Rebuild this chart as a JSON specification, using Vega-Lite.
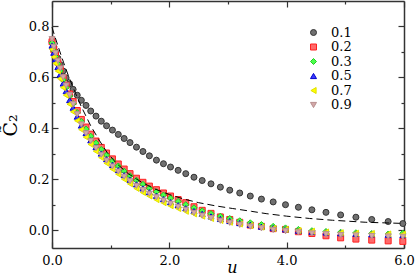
{
  "$schema": "https://vega.github.io/schema/vega-lite/v6.json",
  "autosize": {"type": "none"},
  "padding": {"left": 52, "top": 1, "right": 11, "bottom": 27},
  "width": 352,
  "height": 247,
  "config": {"view": {"stroke": null}},
  "datasets": {
    "fit": [
      {"u": 0, "d": 0.797}, {"u": 0.05, "d": 0.76}, {"u": 0.1, "d": 0.725}, {"u": 0.15, "d": 0.69},
      {"u": 0.2, "d": 0.657}, {"u": 0.29, "d": 0.6}, {"u": 0.4, "d": 0.538}, {"u": 0.5, "d": 0.485},
      {"u": 0.66, "d": 0.41}, {"u": 0.8, "d": 0.355}, {"u": 0.94, "d": 0.305}, {"u": 1.1, "d": 0.262},
      {"u": 1.3, "d": 0.222}, {"u": 1.5, "d": 0.192}, {"u": 1.74, "d": 0.163}, {"u": 2.0, "d": 0.14},
      {"u": 2.25, "d": 0.122}, {"u": 2.5, "d": 0.108}, {"u": 2.8, "d": 0.095}, {"u": 3.08, "d": 0.085},
      {"u": 3.4, "d": 0.074}, {"u": 3.65, "d": 0.065}, {"u": 4.0, "d": 0.055}, {"u": 4.39, "d": 0.046},
      {"u": 4.78, "d": 0.039}, {"u": 5.35, "d": 0.031}, {"u": 5.92, "d": 0.027}, {"u": 6.0, "d": 0.026}
    ],
    "pts": [
      {"u":0,"s":"0.1","c":0.74},{"u":0.03,"s":"0.1","c":0.72},{"u":0.06,"s":"0.1","c":0.70},{"u":0.1,"s":"0.1","c":0.675},{"u":0.14,"s":"0.1","c":0.65},{"u":0.19,"s":"0.1","c":0.625},{"u":0.24,"s":"0.1","c":0.598},{"u":0.3,"s":"0.1","c":0.575},{"u":0.36,"s":"0.1","c":0.553},{"u":0.43,"s":"0.1","c":0.53},{"u":0.5,"s":"0.1","c":0.51},{"u":0.58,"s":"0.1","c":0.49},{"u":0.66,"s":"0.1","c":0.468},{"u":0.75,"s":"0.1","c":0.448},{"u":0.84,"s":"0.1","c":0.428},{"u":0.93,"s":"0.1","c":0.41},{"u":1.03,"s":"0.1","c":0.393},{"u":1.13,"s":"0.1","c":0.376},{"u":1.23,"s":"0.1","c":0.36},{"u":1.33,"s":"0.1","c":0.344},{"u":1.44,"s":"0.1","c":0.326},{"u":1.55,"s":"0.1","c":0.309},{"u":1.66,"s":"0.1","c":0.292},{"u":1.78,"s":"0.1","c":0.275},{"u":1.9,"s":"0.1","c":0.261},{"u":2.02,"s":"0.1","c":0.248},{"u":2.15,"s":"0.1","c":0.235},{"u":2.28,"s":"0.1","c":0.222},{"u":2.42,"s":"0.1","c":0.208},{"u":2.56,"s":"0.1","c":0.195},{"u":2.71,"s":"0.1","c":0.182},{"u":2.87,"s":"0.1","c":0.169},{"u":3.03,"s":"0.1","c":0.157},{"u":3.2,"s":"0.1","c":0.146},{"u":3.38,"s":"0.1","c":0.134},{"u":3.57,"s":"0.1","c":0.122},{"u":3.77,"s":"0.1","c":0.111},{"u":3.98,"s":"0.1","c":0.1},{"u":4.2,"s":"0.1","c":0.09},{"u":4.43,"s":"0.1","c":0.08},{"u":4.67,"s":"0.1","c":0.07},{"u":4.92,"s":"0.1","c":0.06},{"u":5.18,"s":"0.1","c":0.051},{"u":5.45,"s":"0.1","c":0.042},{"u":5.73,"s":"0.1","c":0.034},{"u":5.98,"s":"0.1","c":0.026},
      {"u":0,"s":"0.2","c":0.74},{"u":0.03,"s":"0.2","c":0.71},{"u":0.06,"s":"0.2","c":0.688},{"u":0.1,"s":"0.2","c":0.66},{"u":0.14,"s":"0.2","c":0.632},{"u":0.19,"s":"0.2","c":0.598},{"u":0.24,"s":"0.2","c":0.569},{"u":0.3,"s":"0.2","c":0.535},{"u":0.36,"s":"0.2","c":0.505},{"u":0.43,"s":"0.2","c":0.47},{"u":0.5,"s":"0.2","c":0.435},{"u":0.58,"s":"0.2","c":0.405},{"u":0.66,"s":"0.2","c":0.377},{"u":0.75,"s":"0.2","c":0.35},{"u":0.84,"s":"0.2","c":0.325},{"u":0.93,"s":"0.2","c":0.303},{"u":1.03,"s":"0.2","c":0.28},{"u":1.13,"s":"0.2","c":0.26},{"u":1.23,"s":"0.2","c":0.24},{"u":1.33,"s":"0.2","c":0.222},{"u":1.44,"s":"0.2","c":0.204},{"u":1.55,"s":"0.2","c":0.188},{"u":1.66,"s":"0.2","c":0.173},{"u":1.78,"s":"0.2","c":0.159},{"u":1.9,"s":"0.2","c":0.146},{"u":2.02,"s":"0.2","c":0.134},{"u":2.15,"s":"0.2","c":0.12},{"u":2.28,"s":"0.2","c":0.108},{"u":2.42,"s":"0.2","c":0.092},{"u":2.56,"s":"0.2","c":0.078},{"u":2.71,"s":"0.2","c":0.066},{"u":2.87,"s":"0.2","c":0.052},{"u":3.03,"s":"0.2","c":0.042},{"u":3.2,"s":"0.2","c":0.031},{"u":3.38,"s":"0.2","c":0.02},{"u":3.57,"s":"0.2","c":0.015},{"u":3.77,"s":"0.2","c":0.006},{"u":3.98,"s":"0.2","c":0.003},{"u":4.2,"s":"0.2","c":-0.006},{"u":4.43,"s":"0.2","c":-0.013},{"u":4.67,"s":"0.2","c":-0.022},{"u":4.92,"s":"0.2","c":-0.03},{"u":5.18,"s":"0.2","c":-0.035},{"u":5.45,"s":"0.2","c":-0.039},{"u":5.73,"s":"0.2","c":-0.042},{"u":5.98,"s":"0.2","c":-0.044},
      {"u":0,"s":"0.3","c":0.735},{"u":0.03,"s":"0.3","c":0.705},{"u":0.06,"s":"0.3","c":0.682},{"u":0.1,"s":"0.3","c":0.653},{"u":0.14,"s":"0.3","c":0.625},{"u":0.19,"s":"0.3","c":0.59},{"u":0.24,"s":"0.3","c":0.56},{"u":0.3,"s":"0.3","c":0.527},{"u":0.36,"s":"0.3","c":0.497},{"u":0.43,"s":"0.3","c":0.462},{"u":0.5,"s":"0.3","c":0.427},{"u":0.58,"s":"0.3","c":0.397},{"u":0.66,"s":"0.3","c":0.369},{"u":0.75,"s":"0.3","c":0.342},{"u":0.84,"s":"0.3","c":0.317},{"u":0.93,"s":"0.3","c":0.295},{"u":1.03,"s":"0.3","c":0.272},{"u":1.13,"s":"0.3","c":0.252},{"u":1.23,"s":"0.3","c":0.232},{"u":1.33,"s":"0.3","c":0.214},{"u":1.44,"s":"0.3","c":0.196},{"u":1.55,"s":"0.3","c":0.18},{"u":1.66,"s":"0.3","c":0.165},{"u":1.78,"s":"0.3","c":0.151},{"u":1.9,"s":"0.3","c":0.138},{"u":2.02,"s":"0.3","c":0.126},{"u":2.15,"s":"0.3","c":0.113},{"u":2.28,"s":"0.3","c":0.1},{"u":2.42,"s":"0.3","c":0.088},{"u":2.56,"s":"0.3","c":0.076},{"u":2.71,"s":"0.3","c":0.065},{"u":2.87,"s":"0.3","c":0.055},{"u":3.03,"s":"0.3","c":0.046},{"u":3.2,"s":"0.3","c":0.037},{"u":3.38,"s":"0.3","c":0.029},{"u":3.57,"s":"0.3","c":0.022},{"u":3.77,"s":"0.3","c":0.015},{"u":3.98,"s":"0.3","c":0.009},{"u":4.2,"s":"0.3","c":0.003},{"u":4.43,"s":"0.3","c":-0.002},{"u":4.67,"s":"0.3","c":-0.005},{"u":4.92,"s":"0.3","c":-0.008},{"u":5.18,"s":"0.3","c":-0.01},{"u":5.45,"s":"0.3","c":-0.013},{"u":5.73,"s":"0.3","c":-0.015},{"u":5.98,"s":"0.3","c":-0.012},
      {"u":0,"s":"0.5","c":0.725},{"u":0.03,"s":"0.5","c":0.697},{"u":0.06,"s":"0.5","c":0.671},{"u":0.1,"s":"0.5","c":0.641},{"u":0.14,"s":"0.5","c":0.611},{"u":0.19,"s":"0.5","c":0.576},{"u":0.24,"s":"0.5","c":0.546},{"u":0.3,"s":"0.5","c":0.511},{"u":0.36,"s":"0.5","c":0.481},{"u":0.43,"s":"0.5","c":0.446},{"u":0.5,"s":"0.5","c":0.411},{"u":0.58,"s":"0.5","c":0.381},{"u":0.66,"s":"0.5","c":0.353},{"u":0.75,"s":"0.5","c":0.326},{"u":0.84,"s":"0.5","c":0.301},{"u":0.93,"s":"0.5","c":0.279},{"u":1.03,"s":"0.5","c":0.256},{"u":1.13,"s":"0.5","c":0.236},{"u":1.23,"s":"0.5","c":0.216},{"u":1.33,"s":"0.5","c":0.198},{"u":1.44,"s":"0.5","c":0.18},{"u":1.55,"s":"0.5","c":0.164},{"u":1.66,"s":"0.5","c":0.149},{"u":1.78,"s":"0.5","c":0.135},{"u":1.9,"s":"0.5","c":0.122},{"u":2.02,"s":"0.5","c":0.11},{"u":2.15,"s":"0.5","c":0.098},{"u":2.28,"s":"0.5","c":0.086},{"u":2.42,"s":"0.5","c":0.075},{"u":2.56,"s":"0.5","c":0.064},{"u":2.71,"s":"0.5","c":0.054},{"u":2.87,"s":"0.5","c":0.044},{"u":3.03,"s":"0.5","c":0.036},{"u":3.2,"s":"0.5","c":0.028},{"u":3.38,"s":"0.5","c":0.021},{"u":3.57,"s":"0.5","c":0.014},{"u":3.77,"s":"0.5","c":0.008},{"u":3.98,"s":"0.5","c":0.003},{"u":4.2,"s":"0.5","c":-0.002},{"u":4.43,"s":"0.5","c":-0.006},{"u":4.67,"s":"0.5","c":-0.009},{"u":4.92,"s":"0.5","c":-0.012},{"u":5.18,"s":"0.5","c":-0.014},{"u":5.45,"s":"0.5","c":-0.016},{"u":5.73,"s":"0.5","c":-0.018},{"u":5.98,"s":"0.5","c":-0.019},
      {"u":0,"s":"0.7","c":0.71},{"u":0.03,"s":"0.7","c":0.68},{"u":0.06,"s":"0.7","c":0.655},{"u":0.1,"s":"0.7","c":0.625},{"u":0.14,"s":"0.7","c":0.595},{"u":0.19,"s":"0.7","c":0.56},{"u":0.24,"s":"0.7","c":0.53},{"u":0.3,"s":"0.7","c":0.495},{"u":0.36,"s":"0.7","c":0.465},{"u":0.43,"s":"0.7","c":0.43},{"u":0.5,"s":"0.7","c":0.395},{"u":0.58,"s":"0.7","c":0.365},{"u":0.66,"s":"0.7","c":0.337},{"u":0.75,"s":"0.7","c":0.31},{"u":0.84,"s":"0.7","c":0.285},{"u":0.93,"s":"0.7","c":0.263},{"u":1.03,"s":"0.7","c":0.24},{"u":1.13,"s":"0.7","c":0.22},{"u":1.23,"s":"0.7","c":0.2},{"u":1.33,"s":"0.7","c":0.182},{"u":1.44,"s":"0.7","c":0.164},{"u":1.55,"s":"0.7","c":0.148},{"u":1.66,"s":"0.7","c":0.134},{"u":1.78,"s":"0.7","c":0.12},{"u":1.9,"s":"0.7","c":0.108},{"u":2.02,"s":"0.7","c":0.096},{"u":2.15,"s":"0.7","c":0.085},{"u":2.28,"s":"0.7","c":0.074},{"u":2.42,"s":"0.7","c":0.064},{"u":2.56,"s":"0.7","c":0.055},{"u":2.71,"s":"0.7","c":0.046},{"u":2.87,"s":"0.7","c":0.038},{"u":3.03,"s":"0.7","c":0.031},{"u":3.2,"s":"0.7","c":0.024},{"u":3.38,"s":"0.7","c":0.018},{"u":3.57,"s":"0.7","c":0.012},{"u":3.77,"s":"0.7","c":0.007},{"u":3.98,"s":"0.7","c":0.003},{"u":4.2,"s":"0.7","c":-0.001},{"u":4.43,"s":"0.7","c":-0.004},{"u":4.67,"s":"0.7","c":-0.007},{"u":4.92,"s":"0.7","c":-0.01},{"u":5.18,"s":"0.7","c":-0.012},{"u":5.45,"s":"0.7","c":-0.013},{"u":5.73,"s":"0.7","c":-0.015},{"u":5.98,"s":"0.7","c":-0.016},
      {"u":0,"s":"0.9","c":0.75},{"u":0.03,"s":"0.9","c":0.72},{"u":0.06,"s":"0.9","c":0.695},{"u":0.1,"s":"0.9","c":0.665},{"u":0.14,"s":"0.9","c":0.635},{"u":0.19,"s":"0.9","c":0.6},{"u":0.24,"s":"0.9","c":0.568},{"u":0.3,"s":"0.9","c":0.53},{"u":0.36,"s":"0.9","c":0.495},{"u":0.43,"s":"0.9","c":0.455},{"u":0.5,"s":"0.9","c":0.415},{"u":0.58,"s":"0.9","c":0.38},{"u":0.66,"s":"0.9","c":0.35},{"u":0.75,"s":"0.9","c":0.322},{"u":0.84,"s":"0.9","c":0.296},{"u":0.93,"s":"0.9","c":0.273},{"u":1.03,"s":"0.9","c":0.25},{"u":1.13,"s":"0.9","c":0.23},{"u":1.23,"s":"0.9","c":0.21},{"u":1.33,"s":"0.9","c":0.192},{"u":1.44,"s":"0.9","c":0.174},{"u":1.55,"s":"0.9","c":0.158},{"u":1.66,"s":"0.9","c":0.143},{"u":1.78,"s":"0.9","c":0.129},{"u":1.9,"s":"0.9","c":0.116},{"u":2.02,"s":"0.9","c":0.104},{"u":2.15,"s":"0.9","c":0.092},{"u":2.28,"s":"0.9","c":0.08},{"u":2.42,"s":"0.9","c":0.068},{"u":2.56,"s":"0.9","c":0.057},{"u":2.71,"s":"0.9","c":0.047},{"u":2.87,"s":"0.9","c":0.037},{"u":3.03,"s":"0.9","c":0.029},{"u":3.2,"s":"0.9","c":0.021},{"u":3.38,"s":"0.9","c":0.014},{"u":3.57,"s":"0.9","c":0.007},{"u":3.77,"s":"0.9","c":0.001},{"u":3.98,"s":"0.9","c":-0.004},{"u":4.2,"s":"0.9","c":-0.009},{"u":4.43,"s":"0.9","c":-0.013},{"u":4.67,"s":"0.9","c":-0.016},{"u":4.92,"s":"0.9","c":-0.019},{"u":5.18,"s":"0.9","c":-0.021},{"u":5.45,"s":"0.9","c":-0.023},{"u":5.73,"s":"0.9","c":-0.025},{"u":5.98,"s":"0.9","c":-0.026}
    ]
  },
  "layer": [
    {
      "data": {"name": "pts"},
      "mark": {"type": "point", "filled": true, "size": 36, "strokeWidth": 1, "opacity": 1},
      "encoding": {
        "x": {
          "field": "u", "type": "quantitative",
          "scale": {"domain": [0, 6], "nice": false, "zero": false},
          "axis": {
            "orient": "bottom", "values": [0, 1, 2, 3, 4, 5, 6],
            "labelExpr": "datum.value % 2 == 0 ? format(datum.value, '.1f') : ''",
            "tickSize": {"condition": {"test": "datum.value % 2 != 0", "value": -3}, "value": -6},
            "labelPadding": 12, "labelFlush": false, "labelFont": "DejaVu Serif", "labelFontSize": 13, "labelColor": "#000",
            "grid": false, "domainColor": "#333", "domainWidth": 1.5, "tickColor": "#333", "tickWidth": 1.2,
            "title": "u", "titleFont": "DejaVu Serif", "titleFontSize": 16, "titleFontStyle": "italic", "titleFontWeight": "normal",
            "titleColor": "#000", "titleBaseline": "alphabetic", "titleY": 24, "titleX": 180
          }
        },
        "y": {
          "field": "c", "type": "quantitative",
          "scale": {"domain": [-0.07, 0.9], "nice": false, "zero": false},
          "axis": {
            "orient": "left", "values": [0, 0.1, 0.2, 0.3, 0.4, 0.5, 0.6, 0.7, 0.8],
            "labelExpr": "round(datum.value * 10) % 2 == 0 ? format(datum.value, '.1f') : ''",
            "tickSize": {"condition": {"test": "round(datum.value * 10) % 2 == 1", "value": -3}, "value": -6},
            "labelPadding": 9, "labelFlush": false, "labelFont": "DejaVu Serif", "labelFontSize": 13, "labelColor": "#000",
            "grid": false, "domainColor": "#333", "domainWidth": 1.5, "tickColor": "#333", "tickWidth": 1.2,
            "title": "C̃₂", "titleFont": "DejaVu Serif", "titleFontSize": 19, "titleFontWeight": "normal",
            "titleColor": "#000", "titleAngle": -90, "titleBaseline": "middle", "titleAlign": "center", "titleX": -42, "titleY": 124
          }
        },
        "shape": {
          "field": "s", "type": "nominal",
          "scale": {"domain": ["0.1", "0.2", "0.3", "0.5", "0.7", "0.9"], "range": ["circle", "square", "diamond", "triangle-up", "triangle-left", "triangle-down"]},
          "legend": {
            "orient": "none", "legendX": 255, "legendY": 25, "title": null, "padding": 0,
            "labelFont": "DejaVu Serif", "labelFontSize": 13, "labelColor": "#000", "labelOffset": 11,
            "symbolSize": 36, "rowPadding": 0.5, "symbolStrokeWidth": 1, "labelLimit": 60
          }
        },
        "fill": {
          "field": "s", "type": "nominal",
          "scale": {"domain": ["0.1", "0.2", "0.3", "0.5", "0.7", "0.9"], "range": ["#707070", "#ff6a6a", "#4cff4c", "#3a3aff", "#ffff00", "#d2a8a8"]}
        },
        "stroke": {
          "field": "s", "type": "nominal",
          "scale": {"domain": ["0.1", "0.2", "0.3", "0.5", "0.7", "0.9"], "range": ["#333333", "#ff2020", "#22cc22", "#0000cc", "#e0e000", "#b88f8f"]}
        }
      }
    },
    {
      "data": {"name": "fit"},
      "mark": {"type": "line", "color": "#000", "strokeWidth": 1, "strokeDash": [7, 4]},
      "encoding": {
        "x": {
          "field": "u", "type": "quantitative",
          "axis": {
            "orient": "top", "values": [0, 1, 2, 3, 4, 5, 6], "labels": false, "title": null, "grid": false,
            "tickSize": {"condition": {"test": "datum.value % 2 != 0", "value": -3}, "value": -6},
            "domainColor": "#333", "domainWidth": 1.5, "tickColor": "#333", "tickWidth": 1.2
          }
        },
        "y": {
          "field": "d", "type": "quantitative",
          "axis": {
            "orient": "right", "values": [0, 0.1, 0.2, 0.3, 0.4, 0.5, 0.6, 0.7, 0.8], "labels": false, "title": null, "grid": false,
            "tickSize": {"condition": {"test": "round(datum.value * 10) % 2 == 1", "value": -3}, "value": -6},
            "domainColor": "#333", "domainWidth": 1.5, "tickColor": "#333", "tickWidth": 1.2
          }
        }
      }
    }
  ],
  "resolve": {"axis": {"x": "independent", "y": "independent"}}
}
